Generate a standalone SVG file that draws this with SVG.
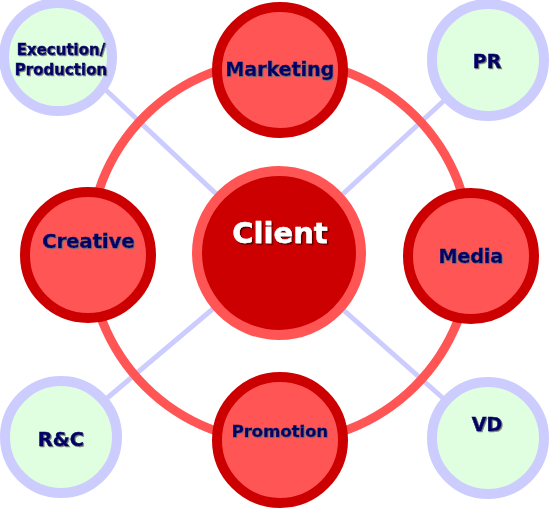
<svg xmlns="http://www.w3.org/2000/svg" width="549" height="509" viewBox="0 0 549 509">
<defs>
<filter id="sh" x="-10%" y="-20%" width="130%" height="150%">
<feDropShadow dx="1" dy="1" stdDeviation="0.4" flood-color="#777777" flood-opacity="0.9"/>
</filter>
<filter id="shc" x="-10%" y="-20%" width="130%" height="150%">
<feDropShadow dx="1.5" dy="1.5" stdDeviation="0.5" flood-color="#550000" flood-opacity="1"/>
</filter>
</defs>
<style>
.main{fill:#ff5555;stroke:#cc0000;stroke-width:10}
.sat{fill:#e0ffe0;stroke:#ccccff;stroke-width:10}
.lbl{font-family:"DejaVu Sans",Verdana,sans-serif;font-weight:bold;fill:#000066;stroke:#000066;stroke-width:0.5;text-anchor:middle;filter:url(#sh)}
.conn{stroke:#ccccff;stroke-width:5;fill:none}
</style>
<g id="connectors">
<line class="conn" x1="279" y1="253" x2="58" y2="45"/>
<line class="conn" x1="279" y1="253" x2="488" y2="60"/>
<line class="conn" x1="279" y1="253" x2="61" y2="437"/>
<line class="conn" x1="279" y1="253" x2="488" y2="438"/>
<circle cx="280" cy="251" r="191" fill="none" stroke="#ff5555" stroke-width="9"/>
</g>
<g id="client">
<circle cx="279" cy="253" r="82" fill="#cc0000" stroke="#ff5555" stroke-width="10"/>
<text x="280" y="243" font-family="'DejaVu Sans',Verdana,sans-serif" font-weight="bold" font-size="29" fill="#ffffff" stroke="#ffffff" stroke-width="0.5" text-anchor="middle" filter="url(#shc)">Client</text>
</g>
<g id="marketing">
<circle class="main" cx="280" cy="70" r="63"/>
<text class="lbl" x="280" y="76" font-size="19">Marketing</text>
</g>
<g id="media">
<circle class="main" cx="471" cy="256" r="63"/>
<text class="lbl" x="471" y="263" font-size="19">Media</text>
</g>
<g id="promotion">
<circle class="main" cx="280" cy="440" r="63"/>
<text class="lbl" x="280" y="437" font-size="16.5">Promotion</text>
</g>
<g id="creative">
<circle class="main" cx="88" cy="255" r="63"/>
<text class="lbl" x="88.5" y="248" font-size="19.5">Creative</text>
</g>
<g id="execution">
<circle class="sat" cx="58" cy="57" r="54"/>
<text class="lbl" x="61" y="55" font-size="15">Execution/</text>
<text class="lbl" x="61" y="75" font-size="15">Production</text>
</g>
<g id="pr">
<circle class="sat" cx="488" cy="60" r="56"/>
<text class="lbl" x="487" y="68" font-size="19">PR</text>
</g>
<g id="rc">
<circle class="sat" cx="61" cy="437" r="56"/>
<text class="lbl" x="61" y="446" font-size="19.5">R&amp;C</text>
</g>
<g id="vd">
<circle class="sat" cx="488" cy="438" r="56"/>
<text class="lbl" x="487" y="431" font-size="19">VD</text>
</g>
</svg>
